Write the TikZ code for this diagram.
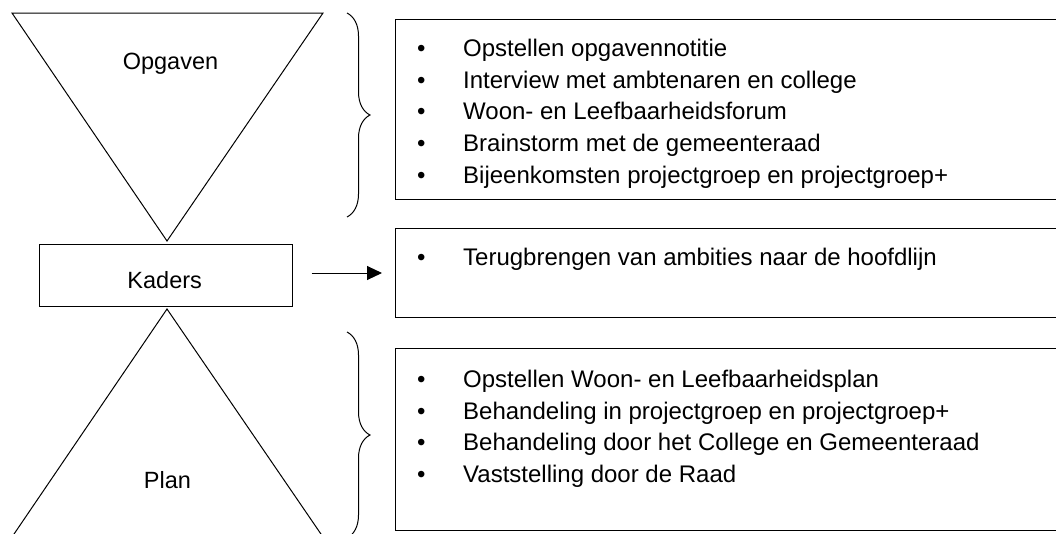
\documentclass[tikz,border=0pt]{standalone}
\usepackage{fontspec}
\setmainfont{Liberation Sans}
\usetikzlibrary{arrows.meta,decorations.pathreplacing}

\newcommand{\itm}[1]{\makebox[46pt][l]{\textbullet}#1}

\begin{document}
\begin{tikzpicture}[x=1pt,y=-1pt,
    outline/.style={line width=1pt},
    link/.style={line width=1pt,-{Triangle[length=15pt,width=14pt]}},
    brc/.style={line width=1pt,decorate,decoration={brace,amplitude=23pt}},
    box/.style={draw,line width=1pt,anchor=north west,minimum width=700pt,inner sep=0pt},
    item/.style={font=\fontsize{24}{28}\selectfont,anchor=base west,inner sep=0pt},
    lbl/.style={font=\fontsize{23.5}{28}\selectfont,anchor=base,inner sep=0pt}]
    \clip (0,0) rectangle (1056,533);
    \fill[white] (0,0) rectangle (1056,533);

    % trechter
    \draw[outline] (12,13) -- (323,13) -- (167,241) -- cycle;
    \draw[outline] (167,309) -- (323,537) -- (12,537) -- cycle;
    \node[lbl] (opgaven) at (170.5,69) {Opgaven};
    \node[lbl] (plan) at (167.5,488) {Plan};
    \node[draw,line width=1pt,minimum width=253pt,minimum height=62pt] (kaders) at (165.5,275) {};
    \node[lbl] (kaderstxt) at (164.7,288) {Kaders};

    \draw[brc] (347,13) -- (347,217);
    \draw[brc] (347,332) -- (347,538);

    % kaders met lijsten
    \node[box,minimum height=180pt] (opbox) at (395,19) {};
    \node[box,minimum height=89pt] (kdbox) at (395,228) {};
    \node[box,minimum height=182pt] (plbox) at (395,348) {};

    \draw[link,shorten <=19pt,shorten >=13pt] ([yshift=2pt]kaders.east) -- ([yshift=2pt]kaders.east -| kdbox.west);

    \foreach \txt [count=\i] in {Opstellen opgavennotitie,
        Interview met ambtenaren en college,
        Woon- en Leefbaarheidsforum,
        Brainstorm met de gemeenteraad,
        Bijeenkomsten projectgroep en projectgroep+}
      \node[item] (op\i) at (417,{25+31.6*\i}) {\itm{\txt}};

    \node[item] (kd1) at (417,265.5) {\itm{Terugbrengen van ambities naar de hoofdlijn}};

    \foreach \txt [count=\i] in {Opstellen Woon- en Leefbaarheidsplan,
        Behandeling in projectgroep en projectgroep+,
        Behandeling door het College en Gemeenteraad,
        Vaststelling door de Raad}
      \node[item] (pl\i) at (417,{356+31.6*\i}) {\itm{\txt}};
\end{tikzpicture}
\end{document}
